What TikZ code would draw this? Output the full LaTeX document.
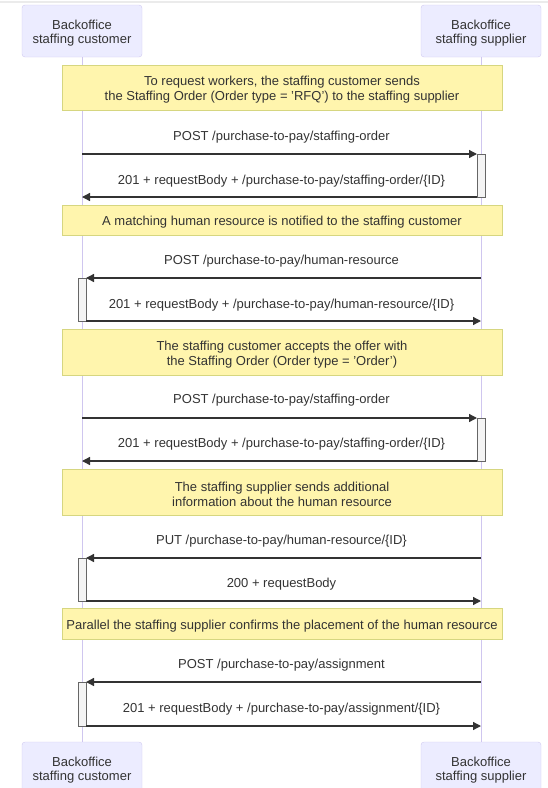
\documentclass[tikz,border=0pt]{standalone}
\usepackage{fontspec}
\setmainfont{Liberation Sans}
\usetikzlibrary{arrows.meta}
\definecolor{actfill}{HTML}{ECECFF}
\definecolor{actline}{HTML}{D0C8F0}
\definecolor{lifecol}{HTML}{CFC6EF}
\definecolor{notefill}{HTML}{FFF5AD}
\definecolor{noteline}{HTML}{D6D680}
\definecolor{txt}{HTML}{333333}
\definecolor{actvfill}{HTML}{F4F4F4}
\definecolor{actvline}{HTML}{666666}
\begin{document}
\begin{tikzpicture}[x=1pt,y=-1pt,
  actor/.style={draw=actline, fill=actfill, rounded corners=3pt, minimum width=120pt,
    minimum height=52pt, inner sep=0pt},
  actortext/.style={align=center, text=txt, inner sep=0pt, yshift=-2.5pt,
    font=\fontsize{13}{14}\selectfont},
  note/.style={draw=noteline, fill=notefill, minimum width=440pt, inner sep=0pt},
  notetext/.style={align=center, text=txt, inner sep=0pt, yshift=-2.5pt,
    font=\fontsize{13}{15}\selectfont},
  msg/.style={text=txt, font=\fontsize{13}{15}\selectfont, inner sep=0pt, yshift=-2.5pt},
  lifeline/.style={draw=lifecol, line width=0.8pt},
  arrowline/.style={draw=txt, line width=1.3pt, -{Triangle[length=8pt,width=8pt]}},
  activation/.style={draw=actvline, fill=actvfill, line width=0.6pt}
]
\useasboundingbox (0,0) rectangle (548,788);
\draw[draw=black!8, line width=2pt] (0,1.5) -- (548,1.5);

% actors
\node[actor] (c1t) at (82,31) {};
\node[actor] (s1t) at (481,31) {};
\node[actor] (c1b) at (82,768) {};
\node[actor] (s1b) at (481,768) {};
\node[actortext] (c1tt) at (c1t.center) {Backoffice\\staffing customer};
\node[actortext] (s1tt) at (s1t.center) {Backoffice\\staffing supplier};
\node[actortext] (c1bt) at (c1b.center) {Backoffice\\staffing customer};
\node[actortext] (s1bt) at (s1b.center) {Backoffice\\staffing supplier};

% lifelines
\draw[lifeline] (c1t.south) -- (c1b.north);
\draw[lifeline] (s1t.south) -- (s1b.north);

% notes
\node[note, minimum height=45pt] (n1) at (282,87.5) {};
\node[note, minimum height=30pt] (n2) at (282,220) {};
\node[note, minimum height=46pt] (n3) at (282,352) {};
\node[note, minimum height=46pt] (n4) at (282,492) {};
\node[note, minimum height=31pt] (n5) at (282,623.5) {};
\node[notetext] (n1t) at (n1.center) {To request workers, the staffing customer sends\\the Staffing Order (Order type = 'RFQ') to the staffing supplier};
\node[notetext] (n2t) at (n2.center) {A matching human resource is notified to the staffing customer};
\node[notetext] (n3t) at (n3.center) {The staffing customer accepts the offer with\\the Staffing Order (Order type = 'Order')};
\node[notetext] (n4t) at (n4.center) {The staffing supplier sends additional\\information about the human resource};
\node[notetext] (n5t) at (n5.center) {Parallel the staffing supplier confirms the placement of the human resource};

% activations
\draw[activation] (477,154) rectangle (485,197);
\draw[activation] (78,278) rectangle (86,321);
\draw[activation] (477,418) rectangle (485,461);
\draw[activation] (78,558) rectangle (86,601);
\draw[activation] (78,682) rectangle (86,726);

% coordinates on the lifelines
\coordinate (m1a) at (82,154);  \coordinate (m1b) at (477,154);
\coordinate (m2a) at (477,197); \coordinate (m2b) at (82,197);
\coordinate (m3a) at (481,278); \coordinate (m3b) at (86,278);
\coordinate (m4a) at (86,321);  \coordinate (m4b) at (481,321);
\coordinate (m5a) at (82,418);  \coordinate (m5b) at (477,418);
\coordinate (m6a) at (477,461); \coordinate (m6b) at (82,461);
\coordinate (m7a) at (481,558); \coordinate (m7b) at (86,558);
\coordinate (m8a) at (86,601);  \coordinate (m8b) at (481,601);
\coordinate (m9a) at (481,682); \coordinate (m9b) at (86,682);
\coordinate (m10a) at (86,726); \coordinate (m10b) at (481,726);

% messages
\draw[arrowline] (m1a) -- (m1b);
\draw[arrowline] (m2a) -- (m2b);
\draw[arrowline] (m3a) -- (m3b);
\draw[arrowline] (m4a) -- (m4b);
\draw[arrowline] (m5a) -- (m5b);
\draw[arrowline] (m6a) -- (m6b);
\draw[arrowline] (m7a) -- (m7b);
\draw[arrowline] (m8a) -- (m8b);
\draw[arrowline] (m9a) -- (m9b);
\draw[arrowline] (m10a) -- (m10b);

% labels
\node[msg] (l1) at (281.5,135) {POST /purchase-to-pay/staffing-order};
\node[msg] (l2) at (281.5,179) {201 + requestBody + /purchase-to-pay/staffing-order/\{ID\}};
\node[msg] (l3) at (281.5,259) {POST /purchase-to-pay/human-resource};
\node[msg] (l4) at (281.5,303) {201 + requestBody + /purchase-to-pay/human-resource/\{ID\}};
\node[msg] (l5) at (281.5,398) {POST /purchase-to-pay/staffing-order};
\node[msg] (l6) at (281.5,442) {201 + requestBody + /purchase-to-pay/staffing-order/\{ID\}};
\node[msg] (l7) at (281.5,539) {PUT /purchase-to-pay/human-resource/\{ID\}};
\node[msg] (l8) at (281.5,582) {200 + requestBody};
\node[msg] (l9) at (281.5,663) {POST /purchase-to-pay/assignment};
\node[msg] (l10) at (281.5,707) {201 + requestBody + /purchase-to-pay/assignment/\{ID\}};
\end{tikzpicture}
\end{document}
